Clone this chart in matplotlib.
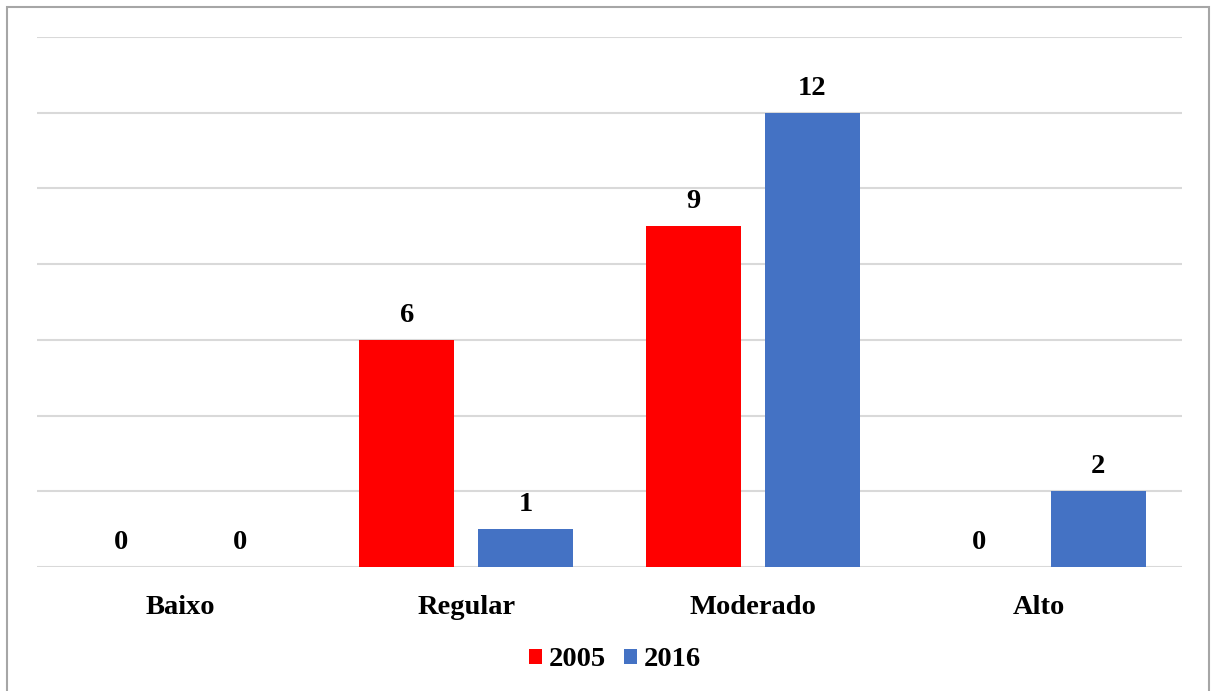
import matplotlib.pyplot as plt
import numpy as np
from matplotlib.patches import Rectangle

categories = ["Baixo", "Regular", "Moderado", "Alto"]
series_names = ["2005", "2016"]
values_2005 = [0, 6, 9, 0]
values_2016 = [0, 1, 12, 2]
colors = ["#ff0000", "#4472c4"]

plt.rcParams['font.family'] = ['Liberation Serif', 'DejaVu Serif']

W, H = 1211, 691
fig = plt.figure(figsize=(W / 100, H / 100), dpi=100)
fig.patch.set_facecolor("white")

# outer chart frame
fig.add_artist(Rectangle((7 / W, -0.01), (1209 - 7) / W, (H - 7) / H + 0.01,
                         transform=fig.transFigure, fill=False,
                         edgecolor="#a6a6a6", linewidth=1.5))

ax = fig.add_axes([37 / W, (H - 567) / H, (1182 - 37) / W, (567 - 37) / H])
x = np.arange(len(categories))
bw = 0.332
off = 0.208
fs = 20.5

bars = []
for i, (vals, c) in enumerate(zip([values_2005, values_2016], colors)):
    pos = x + (-off if i == 0 else off)
    b = ax.bar(pos, vals, width=bw, color=c, label=series_names[i], zorder=3)
    bars.append(b)
    for p, v in zip(pos, vals):
        ax.text(p, v + 0.47, str(v), ha="center", va="baseline",
                fontsize=fs, fontweight="bold", color="black")

ax.set_xlim(-0.5, len(categories) - 0.5)
ax.set_ylim(0, 14)
ax.set_yticks(np.arange(0, 15, 2))
ax.yaxis.grid(True, color="#d9d9d9", linewidth=1.5, zorder=0)
ax.set_axisbelow(True)
ax.tick_params(axis="y", left=False, labelleft=False)
ax.tick_params(axis="x", bottom=False, pad=17)
ax.set_xticks(x)
ax.set_xticklabels(categories, fontsize=fs, fontweight="bold")
for s in ax.spines.values():
    s.set_visible(False)
ax.patch.set_alpha(0)

fig.legend(handles=[bars[0], bars[1]], labels=series_names, loc="center",
           bbox_to_anchor=(615 / W, (H - 660) / H), ncol=2, frameon=False,
           prop={"size": fs, "weight": "bold"}, handlelength=0.45,
           handleheight=0.45, handletextpad=0.25, columnspacing=0.65)

fig.savefig("out.png", dpi=100)
